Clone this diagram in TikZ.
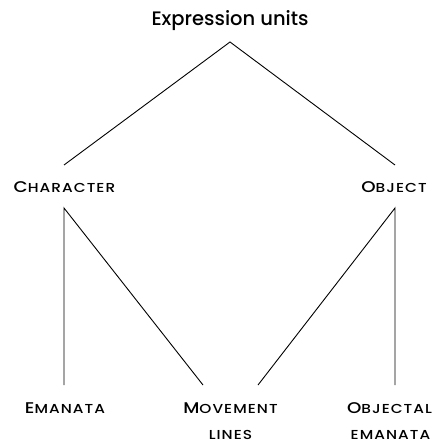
\documentclass[tikz,border=0pt]{standalone}
\usepackage{fontspec}
\setmainfont{Poppins}[UprightFont=* Medium]
\newfontfamily\scfont{Poppins}[UprightFont=* Medium, FakeStretch=1.18, LetterSpace=8]
\usetikzlibrary{calc}
% small caps faked with a reduced, widened uppercase
\newcommand{\smallcaps}[1]{{\scfont\fontsize{13}{15}\selectfont #1}}
\newcommand{\capfirst}[2]{{\scfont\fontsize{15.5}{18}\selectfont #1}\smallcaps{#2}}
\begin{document}
\begin{tikzpicture}[x=1pt,y=-1pt,
  label/.style={inner sep=0pt, anchor=center, text=black},
  link/.style={line width=0.9pt, black}]
\useasboundingbox (0,0) rectangle (439,441);
\node[label, font=\fontsize{19.5}{22}\selectfont] (top) at (230,21) {Expression units};
\node[label] (char) at (64.5,187) {\capfirst{C}{HARACTER}};
\node[label] (obj) at (394,187) {\capfirst{O}{BJECT}};
\node[label] (eman) at (65,408) {\capfirst{E}{MANATA}};
\node[label] (move) at (230.5,408) {\capfirst{M}{OVEMENT}};
\node[label] (lines) at (230.5,434.5) {\smallcaps{LINES}};
\node[label] (objl) at (389.5,408) {\capfirst{O}{BJECTAL}};
\node[label] (obje) at (390.5,434.5) {\smallcaps{EMANATA}};
% connector ends
\coordinate (apex) at (230,42);
\coordinate (charIn) at (64,165);
\coordinate (objIn) at (395,165);
\coordinate (charOut) at (64,208);
\coordinate (objOut) at (395,208);
\coordinate (emanIn) at (64,385);
\coordinate (moveInL) at (203,385);
\coordinate (moveInR) at (258,385);
\coordinate (objlIn) at (395,385);
\draw[link] (charIn) -- (apex) -- (objIn);
\draw[link] (emanIn) -- (charOut) -- (moveInL);
\draw[link] (moveInR) -- (objOut) -- (objlIn);
\end{tikzpicture}
\end{document}
